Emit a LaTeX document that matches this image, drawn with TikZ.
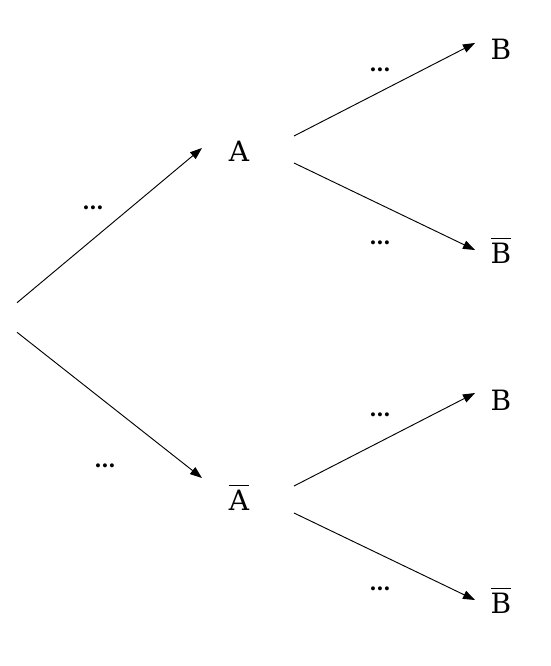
\documentclass[tikz,border=0pt]{standalone}
\usepackage{amsmath}
\usepackage{fontspec}
\setmainfont{DejaVu Serif}
\usetikzlibrary{arrows.meta}

\begin{document}
\begin{tikzpicture}[x=0.75pt,y=-0.75pt,
              lbl/.style={inner sep=0,anchor=base,font=\fontsize{21}{24}\selectfont},
              prob/.style={inner sep=0,anchor=base,font=\fontsize{16}{18}\selectfont\bfseries},
              br/.style={-{Triangle[length=9pt,width=6.5pt]},line width=0.7pt}]
              \useasboundingbox (0,0) rectangle (550,666);
              % root and events
              \node[inner sep=0,minimum width=0,minimum height=21.75pt] (r) at (17,317.5) {};
              \node[lbl] (A) at (239,162) {A};
              \node[lbl] (Ab) at (239,510) {$\overline{\text{A}}$};
              \node[lbl] (B1) at (501,60) {B};
              \node[lbl] (Bb1) at (501,263) {$\overline{\text{B}}$};
              \node[lbl] (B2) at (501,410) {B};
              \node[lbl] (Bb2) at (501,613) {$\overline{\text{B}}$};
              % branch ends
              \coordinate (tA) at (202,148);
              \coordinate (tAb) at (202,478);
              \coordinate (sA1) at (294,136);
              \coordinate (sA2) at (294,163);
              \coordinate (sAb1) at (294,486);
              \coordinate (sAb2) at (294,513);
              \coordinate (tB1) at (475,43);
              \coordinate (tBb1) at (475,250);
              \coordinate (tB2) at (475,393);
              \coordinate (tBb2) at (475,600);
              \draw[br] (r.north)--(tA);
              \draw[br] (r.south)--(tAb);
              \draw[br] (sA1)--(tB1);
              \draw[br] (sA2)--(tBb1);
              \draw[br] (sAb1)--(tB2);
              \draw[br] (sAb2)--(tBb2);
              % probabilities
              \node[prob] (pA) at (93,210) {…};
              \node[prob] (pAb) at (105,467) {…};
              \node[prob] (pB1) at (380,72) {…};
              \node[prob] (pBb1) at (380,244) {…};
              \node[prob] (pB2) at (380,416) {…};
              \node[prob] (pBb2) at (380,590) {…};
            \end{tikzpicture}
\end{document}
